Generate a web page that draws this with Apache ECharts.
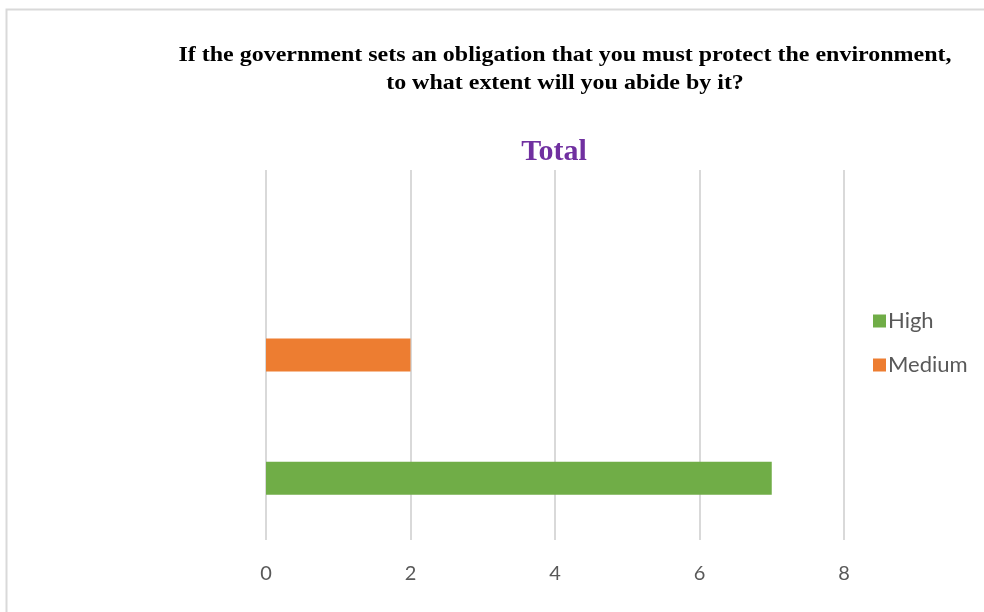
<!DOCTYPE html>
<html>
<head>
<meta charset="utf-8">
<script src="https://cdn.jsdelivr.net/npm/echarts@6/dist/echarts.min.js"></script>
<style>
  html, body { margin: 0; padding: 0; background: #fff; }
  #charts_main { width: 984px; height: 612px; }
</style>
</head>
<body>
<div id="charts_main"></div>
<script>
// categories bottom -> top, the top slot is empty in the original
const categories = ['High', 'Medium', ''];
const high_values = [7, null, null];
const medium_values = [null, 2, null];
const x_ticks = [0, 2, 4, 6, 8];

const title_lines = [
  'If the government sets an obligation that you must protect the environment,',
  'to what extent will you abide by it?'
];

const Chart = echarts.init(document.getElementById('charts_main'));

const title_font = 'bold 22px "Liberation Serif", "Times New Roman", serif';

const chart_option = {
  animation: false,
  graphic: [
    {
      type: 'rect',
      shape: { x: 6.5, y: 9.5, width: 1000, height: 620 },
      style: { fill: 'none', stroke: '#d9d9d9', lineWidth: 2 },
      silent: true
    },
    {
      type: 'group',
      x: 565,
      y: 0,
      scaleX: 1.09,
      children: [
        {
          type: 'text',
          x: 0,
          y: 44,
          style: { text: title_lines[0], font: title_font, fill: '#000', align: 'center' }
        },
        {
          type: 'text',
          x: 0,
          y: 72,
          style: { text: title_lines[1], font: title_font, fill: '#000', align: 'center' }
        }
      ]
    }
  ],
  title: {
    text: 'Total',
    left: 549,
    top: 132,
    textAlign: 'center',
    textStyle: {
      fontFamily: '"Liberation Serif", "Times New Roman", serif',
      fontWeight: 'bold',
      fontSize: 30,
      color: '#7030A0'
    }
  },
  legend: {
    orient: 'vertical',
    left: 868,
    top: 305,
    itemWidth: 13,
    itemHeight: 13,
    itemGap: 22,
    icon: 'rect',
    data: ['High', 'Medium'],
    textStyle: {
      fontFamily: 'Lato, "Open Sans", sans-serif',
      fontSize: 22,
      color: '#595959',
      padding: [0, 0, 0, -3]
    }
  },
  grid: {
    left: 266,
    right: 984 - 844,
    top: 170,
    bottom: 612 - 540,
    containLabel: false
  },
  xAxis: {
    type: 'value',
    min: 0,
    max: 8,
    interval: 2,
    axisLine: { show: false },
    axisTick: { show: false },
    splitLine: { show: true, lineStyle: { color: '#d9d9d9', width: 2 } },
    axisLabel: {
      margin: 24,
      fontFamily: 'Lato, "Open Sans", sans-serif',
      fontSize: 20,
      color: '#595959',
      customValues: x_ticks
    }
  },
  yAxis: {
    type: 'category',
    data: categories,
    axisLine: { show: false },
    axisTick: { show: false },
    axisLabel: { show: false }
  },
  series: [
    {
      name: 'High',
      type: 'bar',
      stack: 'total',
      barWidth: 33,
      itemStyle: { color: '#70AD47' },
      data: high_values
    },
    {
      name: 'Medium',
      type: 'bar',
      stack: 'total',
      barWidth: 33,
      itemStyle: { color: '#ED7D31' },
      data: medium_values
    }
  ]
};

Chart.setOption(chart_option);
</script>
</body>
</html>
